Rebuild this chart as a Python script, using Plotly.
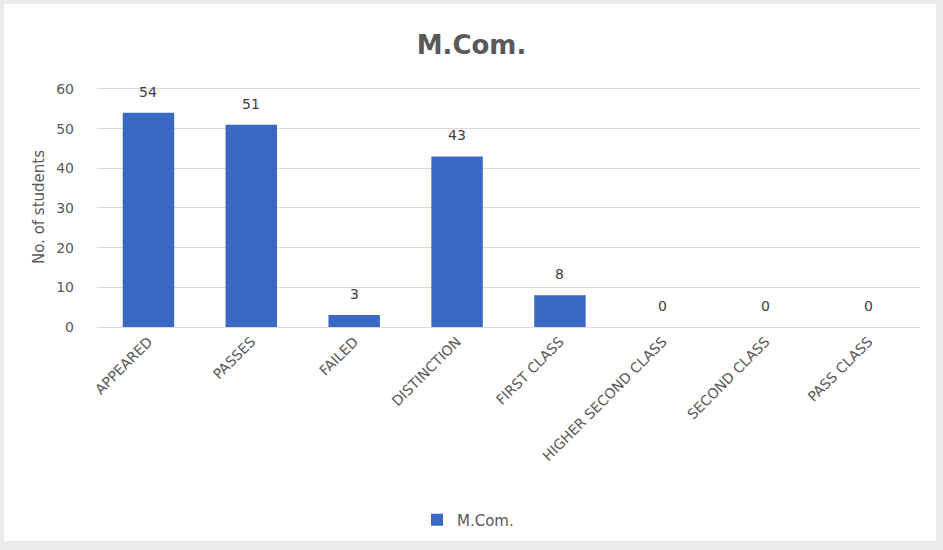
import plotly.graph_objects as go

categories = ["APPEARED", "PASSES", "FAILED", "DISTINCTION", "FIRST CLASS",
              "HIGHER SECOND CLASS", "SECOND CLASS", "PASS CLASS"]
values = [54, 51, 3, 43, 8, 0, 0, 0]
series_name = "M.Com."
y_ticks = [0, 10, 20, 30, 40, 50, 60]

FONT = "DejaVu Sans"
TXT = "#595959"

L, R, T, B = 97, 23, 87, 223
PW, PH = 943 - L - R, 550 - T - B


def px_x(p):
    return (p - L) / PW


def px_y(p):
    return (550 - B - p) / PH


fig = go.Figure()
fig.add_trace(go.Bar(
    x=categories, y=values, name=series_name,
    marker=dict(color="#3a69c4", line=dict(width=0)),
    width=0.5, showlegend=True,
))

for c, v in zip(categories, values):
    fig.add_annotation(x=c, y=v, text=str(v), showarrow=False, yanchor="middle",
                       yshift=21, font=dict(family=FONT, size=14, color="#404040"))

fig.update_layout(
    width=943, height=550,
    margin=dict(l=L, r=R, t=T, b=B),
    paper_bgcolor="#ebebeb", plot_bgcolor="white",
    title=dict(text="M.Com.", x=0.5, xref="container", xanchor="center",
               y=1 - 45 / 550, yanchor="middle",
               font=dict(family=FONT, size=26, color=TXT, weight="bold")),
    xaxis=dict(tickangle=-45, tickfont=dict(family=FONT, size=14, color=TXT),
               showgrid=False, showline=True, linecolor="#d9d9d9", ticks=""),
    yaxis=dict(range=[0, 60.5], tickvals=y_ticks, showgrid=True, gridcolor="#d9d9d9",
               zeroline=False, tickfont=dict(family=FONT, size=14, color=TXT),
               ticks="", ticklabelstandoff=22,
               title=dict(text="No. of students", font=dict(family=FONT, size=15, color=TXT), standoff=7)),
    legend=dict(orientation="h", x=px_x(468), xanchor="center", y=px_y(520), yanchor="middle",
                font=dict(family=FONT, size=15, color=TXT), bgcolor="rgba(0,0,0,0)"),
    shapes=[dict(type="rect", xref="paper", yref="paper", layer="below",
                 x0=px_x(4), x1=px_x(936), y0=px_y(541), y1=px_y(4),
                 fillcolor="white", line=dict(width=0))],
)

fig.write_html("out.html", config={"displayModeBar": False},
               post_script="document.body.style.margin='0px';")
